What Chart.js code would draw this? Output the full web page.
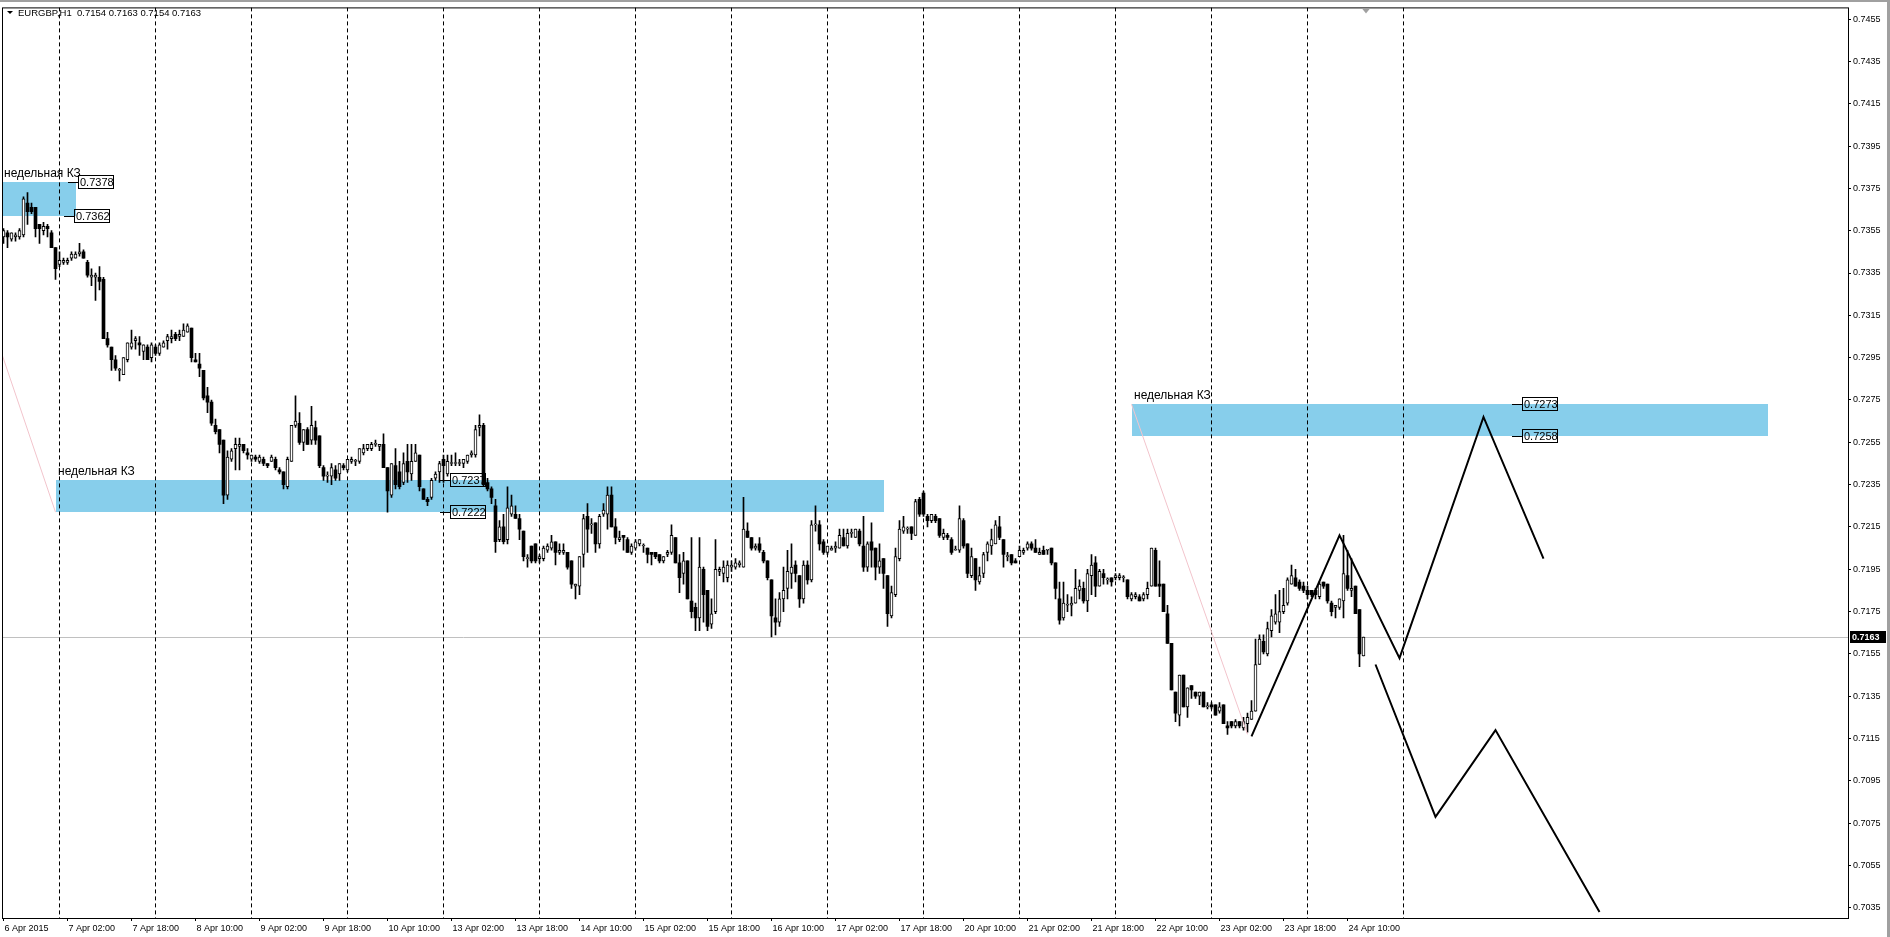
<!DOCTYPE html>
<html>
<head>
<meta charset="utf-8">
<script src="https://cdn.jsdelivr.net/npm/chart.js@4.4.1/dist/chart.umd.min.js"></script>
<style>
  html, body { margin: 0; padding: 0; background: #fff; }
  canvas { display: block; }
</style>
</head>
<body>
<canvas id="chart" width="1890" height="937"></canvas>
<script>
const SYMBOL = 'EURGBP,H1';
const ZONE_NAME = 'недельная КЗ';

// H1 bars, 6 Apr 10:00 .. 24 Apr 14:00 (one line per trading day)
const opens = [
  0.7352,0.7354,0.7351,0.7352,0.7352,0.7353,0.7368,0.7366,0.7366,0.7358,0.7355,0.7357,0.7354,0.7347,
  0.7339,0.7340,0.7340,0.7342,0.7342,0.7344,0.7345,0.7340,0.7333,0.7333,0.7333,0.7332,0.7304,0.7300,0.7294,0.7289,0.7287,0.7294,0.7300,0.7303,0.7302,0.7298,0.7300,0.7295,
  0.7300,0.7297,0.7300,0.7303,0.7304,0.7306,0.7305,0.7305,0.7307,0.7309,0.7294,0.7292,0.7289,0.7277,0.7274,0.7263,0.7261,0.7256,0.7230,0.7247,0.7252,0.7253,0.7254,0.7250,
  0.7247,0.7248,0.7246,0.7247,0.7245,0.7246,0.7247,0.7242,0.7241,0.7234,0.7246,0.7263,0.7264,0.7255,0.7261,0.7256,0.7262,0.7258,0.7243,0.7239,0.7239,0.7242,0.7240,0.7244,
  0.7242,0.7246,0.7246,0.7246,0.7250,0.7252,0.7252,0.7254,0.7253,0.7254,0.7243,0.7230,0.7244,0.7241,0.7236,0.7246,0.7240,0.7246,0.7249,0.7233,0.7228,0.7229,0.7238,0.7241,
  0.7247,0.7240,0.7245,0.7245,0.7245,0.7245,0.7246,0.7249,0.7249,0.7262,0.7263,0.7236,0.7233,0.7225,0.7209,0.7215,0.7209,0.7221,0.7221,0.7219,0.7213,0.7200,0.7206,0.7207,
  0.7200,0.7200,0.7204,0.7205,0.7208,0.7203,0.7203,0.7203,0.7199,0.7187,0.7187,0.7202,0.7220,0.7216,0.7217,0.7207,0.7221,0.7221,0.7230,0.7215,0.7209,0.7211,0.7209,0.7203,
  0.7205,0.7207,0.7206,0.7205,0.7203,0.7203,0.7202,0.7199,0.7202,0.7203,0.7210,0.7198,0.7193,0.7199,0.7180,0.7177,0.7172,0.7195,0.7185,0.7169,0.7175,0.7194,0.7193,0.7191,
  0.7196,0.7196,0.7197,0.7196,0.7213,0.7210,0.7205,0.7207,0.7203,0.7199,0.7190,0.7172,0.7170,0.7181,0.7186,0.7193,0.7197,0.7192,0.7181,0.7197,0.7190,0.7216,0.7216,0.7208,
  0.7203,0.7204,0.7205,0.7205,0.7210,0.7206,0.7212,0.7210,0.7213,0.7206,0.7196,0.7208,0.7205,0.7196,0.7200,0.7192,0.7173,0.7183,0.7200,0.7213,0.7214,0.7215,0.7211,0.7228,
  0.7231,0.7220,0.7218,0.7220,0.7219,0.7210,0.7211,0.7209,0.7204,0.7204,0.7218,0.7207,0.7192,0.7200,0.7189,0.7193,0.7203,0.7206,0.7207,0.7215,0.7209,0.7201,0.7202,0.7199,
  0.7201,0.7203,0.7205,0.7207,0.7205,0.7202,0.7204,0.7204,0.7205,0.7198,0.7181,0.7172,0.7178,0.7178,0.7179,0.7185,0.7186,0.7180,0.7192,0.7198,0.7187,0.7193,0.7190,0.7191,
  0.7191,0.7191,0.7191,0.7190,0.7181,0.7182,0.7182,0.7181,0.7183,0.7187,0.7204,0.7188,0.7188,0.7174,0.7160,0.7137,0.7126,0.7145,0.7130,0.7140,0.7137,0.7135,0.7137,0.7130,
  0.7131,0.7131,0.7128,0.7131,0.7121,0.7123,0.7121,0.7123,0.7120,0.7122,0.7124,0.7128,0.7150,0.7161,0.7155,0.7166,0.7170,0.7170,0.7175,0.7179,0.7188,0.7191,0.7189,0.7187,
  0.7185,0.7185,0.7185,0.7182,0.7189,0.7188,0.7179,0.7177,0.7177,0.7180,0.7192,0.7185,0.7187,0.7176,0.7154
];
const highs = [
  0.7356,0.7355,0.7354,0.7354,0.7356,0.7371,0.7373,0.7368,0.7366,0.7358,0.7359,0.7358,0.7355,0.7347,
  0.7345,0.7342,0.7342,0.7345,0.7345,0.7349,0.7346,0.7341,0.7337,0.7335,0.7338,0.7333,0.7307,0.7300,0.7296,0.7290,0.7295,0.7302,0.7308,0.7305,0.7305,0.7301,0.7301,0.7302,
  0.7301,0.7302,0.7303,0.7306,0.7308,0.7307,0.7308,0.7311,0.7311,0.7309,0.7297,0.7297,0.7289,0.7281,0.7275,0.7266,0.7261,0.7256,0.7251,0.7252,0.7257,0.7257,0.7254,0.7252,
  0.7249,0.7249,0.7249,0.7248,0.7245,0.7249,0.7248,0.7243,0.7241,0.7248,0.7263,0.7277,0.7269,0.7261,0.7262,0.7272,0.7265,0.7258,0.7244,0.7241,0.7245,0.7244,0.7245,0.7245,
  0.7247,0.7248,0.7247,0.7252,0.7254,0.7254,0.7255,0.7256,0.7254,0.7259,0.7243,0.7245,0.7252,0.7246,0.7250,0.7254,0.7254,0.7254,0.7249,0.7233,0.7229,0.7238,0.7241,0.7246,
  0.7249,0.7249,0.7249,0.7250,0.7247,0.7247,0.7249,0.7251,0.7263,0.7268,0.7264,0.7238,0.7234,0.7228,0.7218,0.7221,0.7234,0.7230,0.7225,0.7221,0.7213,0.7202,0.7206,0.7207,
  0.7202,0.7206,0.7207,0.7211,0.7208,0.7207,0.7207,0.7203,0.7199,0.7188,0.7201,0.7221,0.7226,0.7219,0.7217,0.7221,0.7226,0.7234,0.7234,0.7219,0.7213,0.7211,0.7210,0.7207,
  0.7209,0.7209,0.7207,0.7205,0.7203,0.7203,0.7202,0.7201,0.7204,0.7216,0.7210,0.7202,0.7203,0.7199,0.7210,0.7179,0.7210,0.7196,0.7185,0.7181,0.7209,0.7196,0.7199,0.7199,
  0.7199,0.7200,0.7199,0.7229,0.7217,0.7210,0.7207,0.7210,0.7204,0.7199,0.7190,0.7181,0.7184,0.7196,0.7204,0.7207,0.7199,0.7192,0.7199,0.7199,0.7218,0.7225,0.7218,0.7209,
  0.7206,0.7206,0.7208,0.7214,0.7214,0.7214,0.7214,0.7214,0.7214,0.7220,0.7208,0.7217,0.7205,0.7207,0.7200,0.7192,0.7187,0.7205,0.7218,0.7220,0.7215,0.7215,0.7228,0.7229,
  0.7232,0.7221,0.7221,0.7221,0.7219,0.7214,0.7212,0.7210,0.7206,0.7225,0.7219,0.7207,0.7205,0.7200,0.7196,0.7203,0.7208,0.7214,0.7218,0.7220,0.7209,0.7203,0.7202,0.7200,
  0.7206,0.7205,0.7208,0.7208,0.7209,0.7205,0.7206,0.7204,0.7205,0.7198,0.7189,0.7189,0.7183,0.7182,0.7195,0.7190,0.7189,0.7195,0.7202,0.7201,0.7195,0.7195,0.7191,0.7191,
  0.7193,0.7193,0.7192,0.7190,0.7184,0.7184,0.7183,0.7184,0.7189,0.7205,0.7205,0.7199,0.7188,0.7178,0.7160,0.7137,0.7145,0.7145,0.7139,0.7140,0.7137,0.7137,0.7137,0.7132,
  0.7132,0.7131,0.7132,0.7131,0.7123,0.7123,0.7124,0.7123,0.7125,0.7127,0.7133,0.7162,0.7164,0.7164,0.7170,0.7176,0.7183,0.7185,0.7186,0.7191,0.7197,0.7195,0.7190,0.7189,
  0.7187,0.7185,0.7186,0.7189,0.7189,0.7188,0.7180,0.7178,0.7181,0.7211,0.7204,0.7200,0.7187,0.7176,0.7163
];
const lows = [
  0.7349,0.7347,0.7350,0.7350,0.7351,0.7352,0.7358,0.7363,0.7352,0.7349,0.7353,0.7352,0.7347,0.7332,
  0.7338,0.7339,0.7339,0.7341,0.7342,0.7343,0.7342,0.7333,0.7329,0.7322,0.7327,0.7304,0.7300,0.7289,0.7289,0.7284,0.7287,0.7293,0.7299,0.7299,0.7296,0.7294,0.7294,0.7293,
  0.7296,0.7296,0.7300,0.7299,0.7302,0.7303,0.7303,0.7305,0.7307,0.7293,0.7293,0.7286,0.7275,0.7269,0.7263,0.7259,0.7250,0.7226,0.7228,0.7246,0.7242,0.7242,0.7250,0.7247,
  0.7246,0.7246,0.7245,0.7244,0.7243,0.7246,0.7242,0.7240,0.7233,0.7233,0.7246,0.7262,0.7254,0.7251,0.7254,0.7254,0.7254,0.7243,0.7237,0.7236,0.7235,0.7237,0.7237,0.7242,
  0.7241,0.7245,0.7244,0.7245,0.7249,0.7251,0.7251,0.7253,0.7251,0.7243,0.7222,0.7229,0.7233,0.7233,0.7235,0.7236,0.7237,0.7246,0.7232,0.7228,0.7225,0.7228,0.7237,0.7236,
  0.7236,0.7239,0.7244,0.7244,0.7244,0.7243,0.7245,0.7248,0.7248,0.7258,0.7234,0.7232,0.7226,0.7203,0.7208,0.7207,0.7207,0.7220,0.7219,0.7209,0.7199,0.7196,0.7198,0.7198,
  0.7198,0.7199,0.7203,0.7204,0.7197,0.7202,0.7202,0.7195,0.7186,0.7181,0.7183,0.7196,0.7203,0.7212,0.7203,0.7205,0.7220,0.7214,0.7215,0.7207,0.7208,0.7204,0.7203,0.7202,
  0.7204,0.7206,0.7203,0.7198,0.7197,0.7200,0.7198,0.7198,0.7201,0.7202,0.7198,0.7184,0.7188,0.7181,0.7172,0.7166,0.7166,0.7170,0.7166,0.7167,0.7174,0.7192,0.7189,0.7189,
  0.7194,0.7195,0.7196,0.7196,0.7210,0.7204,0.7204,0.7203,0.7198,0.7190,0.7163,0.7164,0.7168,0.7175,0.7181,0.7186,0.7189,0.7177,0.7179,0.7188,0.7189,0.7213,0.7204,0.7202,
  0.7202,0.7204,0.7203,0.7205,0.7206,0.7205,0.7210,0.7210,0.7206,0.7194,0.7194,0.7196,0.7190,0.7193,0.7186,0.7168,0.7172,0.7182,0.7199,0.7212,0.7212,0.7209,0.7211,0.7220,
  0.7220,0.7215,0.7217,0.7217,0.7210,0.7209,0.7209,0.7202,0.7204,0.7203,0.7205,0.7191,0.7191,0.7185,0.7188,0.7191,0.7199,0.7202,0.7207,0.7209,0.7196,0.7199,0.7197,0.7198,
  0.7201,0.7202,0.7204,0.7204,0.7203,0.7202,0.7202,0.7202,0.7197,0.7181,0.7169,0.7171,0.7175,0.7173,0.7179,0.7181,0.7179,0.7175,0.7183,0.7182,0.7187,0.7188,0.7188,0.7187,
  0.7190,0.7190,0.7189,0.7181,0.7180,0.7181,0.7180,0.7180,0.7181,0.7187,0.7187,0.7182,0.7175,0.7160,0.7138,0.7123,0.7121,0.7130,0.7125,0.7134,0.7134,0.7131,0.7130,0.7129,
  0.7129,0.7126,0.7127,0.7122,0.7117,0.7120,0.7120,0.7120,0.7119,0.7118,0.7124,0.7128,0.7150,0.7155,0.7154,0.7163,0.7169,0.7165,0.7174,0.7178,0.7188,0.7187,0.7185,0.7184,
  0.7181,0.7182,0.7181,0.7181,0.7186,0.7179,0.7173,0.7172,0.7176,0.7172,0.7185,0.7182,0.7174,0.7149,0.7154
];
const closes = [
  0.7355,0.7352,0.7354,0.7353,0.7355,0.7370,0.7364,0.7364,0.7356,0.7356,0.7357,0.7356,0.7347,0.7337,
  0.7341,0.7341,0.7341,0.7344,0.7344,0.7345,0.7342,0.7334,0.7334,0.7334,0.7331,0.7304,0.7301,0.7294,0.7290,0.7289,0.7295,0.7302,0.7302,0.7304,0.7301,0.7301,0.7294,0.7301,
  0.7297,0.7301,0.7302,0.7305,0.7305,0.7304,0.7306,0.7308,0.7310,0.7295,0.7293,0.7290,0.7276,0.7274,0.7264,0.7260,0.7254,0.7230,0.7248,0.7251,0.7254,0.7254,0.7251,0.7249,
  0.7249,0.7247,0.7248,0.7245,0.7244,0.7248,0.7243,0.7241,0.7235,0.7247,0.7263,0.7265,0.7255,0.7261,0.7254,0.7263,0.7256,0.7244,0.7239,0.7239,0.7243,0.7238,0.7245,0.7243,
  0.7247,0.7247,0.7246,0.7252,0.7252,0.7254,0.7254,0.7254,0.7254,0.7243,0.7232,0.7245,0.7235,0.7234,0.7245,0.7241,0.7246,0.7250,0.7234,0.7228,0.7227,0.7237,0.7240,0.7245,
  0.7244,0.7246,0.7245,0.7245,0.7245,0.7247,0.7249,0.7250,0.7261,0.7263,0.7235,0.7233,0.7229,0.7208,0.7215,0.7208,0.7224,0.7225,0.7219,0.7214,0.7201,0.7200,0.7199,0.7199,
  0.7201,0.7205,0.7206,0.7208,0.7203,0.7204,0.7204,0.7196,0.7188,0.7188,0.7201,0.7219,0.7214,0.7216,0.7207,0.7220,0.7223,0.7230,0.7215,0.7210,0.7210,0.7210,0.7203,0.7206,
  0.7208,0.7209,0.7206,0.7202,0.7202,0.7201,0.7199,0.7201,0.7203,0.7211,0.7198,0.7191,0.7199,0.7181,0.7175,0.7172,0.7196,0.7183,0.7168,0.7174,0.7195,0.7195,0.7196,0.7197,
  0.7197,0.7198,0.7198,0.7214,0.7210,0.7205,0.7206,0.7204,0.7199,0.7191,0.7173,0.7170,0.7181,0.7185,0.7194,0.7196,0.7193,0.7181,0.7197,0.7190,0.7216,0.7216,0.7207,0.7203,
  0.7206,0.7205,0.7206,0.7211,0.7206,0.7212,0.7212,0.7214,0.7207,0.7196,0.7207,0.7204,0.7196,0.7199,0.7193,0.7174,0.7184,0.7201,0.7214,0.7215,0.7214,0.7212,0.7227,0.7221,
  0.7221,0.7218,0.7221,0.7218,0.7211,0.7212,0.7210,0.7203,0.7204,0.7219,0.7206,0.7193,0.7201,0.7190,0.7192,0.7202,0.7207,0.7209,0.7216,0.7210,0.7202,0.7201,0.7198,0.7198,
  0.7204,0.7204,0.7207,0.7205,0.7203,0.7203,0.7202,0.7204,0.7198,0.7186,0.7171,0.7179,0.7178,0.7179,0.7186,0.7187,0.7180,0.7193,0.7197,0.7187,0.7194,0.7191,0.7190,0.7189,
  0.7192,0.7192,0.7191,0.7182,0.7183,0.7183,0.7180,0.7183,0.7186,0.7205,0.7187,0.7187,0.7175,0.7160,0.7138,0.7127,0.7145,0.7130,0.7139,0.7138,0.7135,0.7137,0.7130,0.7130,
  0.7130,0.7126,0.7130,0.7122,0.7120,0.7121,0.7123,0.7121,0.7123,0.7125,0.7128,0.7150,0.7162,0.7156,0.7167,0.7173,0.7174,0.7175,0.7178,0.7190,0.7192,0.7187,0.7186,0.7185,
  0.7183,0.7183,0.7183,0.7188,0.7187,0.7180,0.7175,0.7178,0.7181,0.7193,0.7186,0.7186,0.7174,0.7155,0.7163
];

// axis labels
const timeTickBars = [0, 16, 32, 48, 64, 80, 96, 112, 128, 144, 160, 176, 192, 208, 224, 240, 256, 272, 288, 304, 320, 336];
const timeTickLabels = [
  '6 Apr 2015', '7 Apr 02:00', '7 Apr 18:00', '8 Apr 10:00', '9 Apr 02:00', '9 Apr 18:00', '10 Apr 10:00',
  '13 Apr 02:00', '13 Apr 18:00', '14 Apr 10:00', '15 Apr 02:00', '15 Apr 18:00', '16 Apr 10:00', '17 Apr 02:00',
  '17 Apr 18:00', '20 Apr 10:00', '21 Apr 02:00', '21 Apr 18:00', '22 Apr 10:00', '23 Apr 02:00', '23 Apr 18:00', '24 Apr 10:00'
];
const priceTicks = [
  0.7035, 0.7055, 0.7075, 0.7095, 0.7115, 0.7135, 0.7155, 0.7175, 0.7195, 0.7215, 0.7235,
  0.7255, 0.7275, 0.7295, 0.7315, 0.7335, 0.7355, 0.7375, 0.7395, 0.7415, 0.7435, 0.7455
];
const daySeparatorBars = [14, 38, 62, 86, 110, 134, 158, 182, 206, 230, 254, 278, 302, 326, 350];

// weekly zones (rectangles)
const zoneFromBars = [-2, 13, 282];
const zoneToBars = [18, 220, 441];
const zoneHighs = [0.7378, 0.7237, 0.7273];
const zoneLows = [0.7362, 0.7222, 0.7258];

// price tags on the zone edges
const tagBars = [16, 15, 109, 109, 377, 377];
const tagPrices = [0.7378, 0.7362, 0.7237, 0.7222, 0.7273, 0.7258];

// thin pink anchor lines
const pinkLineABars = [-1, 13];
const pinkLineAPrices = [0.7300, 0.7222];
const pinkLineBBars = [282, 311];
const pinkLineBPrices = [0.7273, 0.7117];

// forecast zigzags
const zigzagUpBars = [312, 334, 349, 370, 385];
const zigzagUpPrices = [0.7116, 0.7211, 0.7153, 0.7267, 0.7200];
const zigzagDownBars = [343, 358, 373, 399];
const zigzagDownPrices = [0.7150, 0.7078, 0.7119, 0.7033];

const FONT = '"Liberation Sans", Arial, sans-serif';
const lastIdx = closes.length - 1;
const lastClose = closes[lastIdx];

const wickData = opens.map((o, i) => ({ x: i, y: [lows[i], highs[i]] }));
const bullData = [];
const bearData = [];
opens.forEach((o, i) => {
  const point = { x: i, y: [o, closes[i]] };
  if (closes[i] >= o) {
    bullData.push(point);
  } else {
    bearData.push(point);
  }
});

function toPoints(bars, prices) {
  return bars.map((b, i) => ({ x: b, y: prices[i] }));
}

function lineDataset(bars, prices, color, width) {
  return {
    type: 'line',
    data: toPoints(bars, prices),
    borderColor: color,
    borderWidth: width,
    pointRadius: 0,
    fill: false,
    tension: 0,
    order: 0
  };
}

const overlayPlugin = {
  id: 'mt4Overlay',
  beforeDatasetsDraw(chart) {
    const { ctx, chartArea: a, scales: { x, y } } = chart;
    ctx.save();
    ctx.beginPath();
    ctx.rect(a.left, a.top, a.right - a.left, a.bottom - a.top);
    ctx.clip();

    ctx.fillStyle = '#87ceeb';
    zoneFromBars.forEach((from, i) => {
      const x0 = Math.max(x.getPixelForValue(from), a.left);
      const x1 = x.getPixelForValue(zoneToBars[i]);
      const y0 = y.getPixelForValue(zoneHighs[i]);
      const y1 = y.getPixelForValue(zoneLows[i]);
      ctx.fillRect(Math.round(x0), Math.round(y0), Math.round(x1 - x0), Math.round(y1 - y0));
    });

    ctx.strokeStyle = '#c0c0c0';
    ctx.lineWidth = 1;
    const py = Math.round(y.getPixelForValue(lastClose)) + 0.5;
    ctx.beginPath();
    ctx.moveTo(a.left, py);
    ctx.lineTo(a.right, py);
    ctx.stroke();

    ctx.strokeStyle = '#000';
    ctx.setLineDash([4, 3]);
    daySeparatorBars.forEach((b) => {
      const px = Math.floor(x.getPixelForValue(b)) + 0.5;
      ctx.beginPath();
      ctx.moveTo(px, a.top);
      ctx.lineTo(px, a.bottom);
      ctx.stroke();
    });
    ctx.restore();
  },
  afterDatasetsDraw(chart) {
    const { ctx, chartArea: a, scales: { x, y } } = chart;
    ctx.save();
    ctx.fillStyle = '#000';
    ctx.strokeStyle = '#000';
    ctx.lineWidth = 1;

    ctx.font = '12px ' + FONT;
    ctx.textBaseline = 'alphabetic';
    ctx.textAlign = 'left';
    zoneFromBars.forEach((from, i) => {
      const x0 = Math.max(x.getPixelForValue(from), a.left);
      const y0 = y.getPixelForValue(zoneHighs[i]);
      ctx.fillText(ZONE_NAME, Math.round(x0) + 2, Math.round(y0) - 5);
    });

    ctx.font = '11px ' + FONT;
    ctx.textBaseline = 'middle';
    tagBars.forEach((b, i) => {
      const ax = Math.round(x.getPixelForValue(b));
      const ty = Math.round(y.getPixelForValue(tagPrices[i]));
      ctx.beginPath();
      ctx.moveTo(ax, ty + 0.5);
      ctx.lineTo(ax + 10, ty + 0.5);
      ctx.stroke();
      ctx.strokeRect(ax + 10.5, ty - 6.5, 35, 13);
      ctx.fillText(tagPrices[i].toFixed(4), ax + 12, ty + 0.5);
    });
    ctx.restore();
  },
  afterDraw(chart) {
    const { ctx, chartArea: a, scales: { x, y } } = chart;
    ctx.save();

    // window chrome
    ctx.fillStyle = '#a0a0a0';
    ctx.fillRect(0, 0, chart.width, 2);
    ctx.fillRect(chart.width - 3, 0, 3, chart.height);

    // frame
    ctx.strokeStyle = '#000';
    ctx.lineWidth = 1;
    ctx.strokeRect(a.left + 0.5, a.top + 0.5, a.right - a.left, a.bottom - a.top);

    // chart shift marker
    const mx = Math.round(x.getPixelForValue(lastIdx + 0.6));
    ctx.fillStyle = '#a0a0a0';
    ctx.beginPath();
    ctx.moveTo(mx - 4, a.top + 1);
    ctx.lineTo(mx + 4, a.top + 1);
    ctx.lineTo(mx, a.top + 6);
    ctx.closePath();
    ctx.fill();

    // header
    ctx.fillStyle = '#000';
    ctx.beginPath();
    ctx.moveTo(7, 11);
    ctx.lineTo(13, 11);
    ctx.lineTo(10, 14);
    ctx.closePath();
    ctx.fill();
    ctx.font = '9.5px ' + FONT;
    ctx.textBaseline = 'alphabetic';
    ctx.textAlign = 'left';
    ctx.fillText(SYMBOL, 18, 16);
    const ohlc = [opens[lastIdx], highs[lastIdx], lows[lastIdx], closes[lastIdx]].map((v) => v.toFixed(4)).join(' ');
    ctx.fillText(ohlc, 77, 16);

    // current price tag on the axis
    const py = Math.round(y.getPixelForValue(lastClose));
    ctx.fillStyle = '#000';
    ctx.fillRect(a.right + 2, py - 6, 36, 12);
    ctx.fillStyle = '#fff';
    ctx.font = 'bold 9px ' + FONT;
    ctx.textBaseline = 'middle';
    ctx.fillText(lastClose.toFixed(4), a.right + 4, py + 0.5);
    ctx.restore();
  }
};

Chart.defaults.font.family = FONT;
Chart.defaults.font.size = 9;
Chart.defaults.color = '#000';

new Chart(document.getElementById('chart'), {
  type: 'bar',
  data: {
    datasets: [
      lineDataset(pinkLineABars, pinkLineAPrices, '#f2c4cc', 1),
      lineDataset(pinkLineBBars, pinkLineBPrices, '#f2c4cc', 1),
      lineDataset(zigzagUpBars, zigzagUpPrices, '#000', 2),
      lineDataset(zigzagDownBars, zigzagDownPrices, '#000', 2),
      {
        data: bullData,
        backgroundColor: '#fff',
        borderColor: '#000',
        borderWidth: 1,
        borderSkipped: false,
        barThickness: 3,
        minBarLength: 1,
        grouped: false,
        order: 1
      },
      {
        data: bearData,
        backgroundColor: '#000',
        borderWidth: 0,
        barThickness: 3,
        minBarLength: 1,
        grouped: false,
        order: 1
      },
      {
        data: wickData,
        backgroundColor: '#000',
        borderWidth: 0,
        barThickness: 1,
        grouped: false,
        order: 2
      }
    ]
  },
  options: {
    responsive: false,
    animation: false,
    events: [],
    layout: { padding: { left: 2, top: 4, right: 0, bottom: 0 } },
    plugins: {
      legend: { display: false },
      tooltip: { enabled: false }
    },
    scales: {
      x: {
        type: 'linear',
        position: 'bottom',
        min: -0.375,
        max: 461.125,
        bounds: 'data',
        offset: false,
        afterBuildTicks: (scale) => {
          scale.ticks = timeTickBars.map((v) => ({ value: v }));
        },
        afterFit: (scale) => {
          scale.height = 19;
        },
        ticks: {
          autoSkip: false,
          maxRotation: 0,
          minRotation: 0,
          align: 'start',
          padding: 2,
          labelOffset: 1,
          color: '#000',
          callback: (value, index) => timeTickLabels[index]
        },
        grid: {
          offset: false,
          drawOnChartArea: false,
          drawTicks: true,
          tickLength: 3,
          color: '#000'
        },
        border: { display: false }
      },
      y: {
        type: 'linear',
        position: 'right',
        min: 0.703021,
        max: 0.746051,
        bounds: 'data',
        afterBuildTicks: (scale) => {
          scale.ticks = priceTicks.map((v) => ({ value: v }));
        },
        afterFit: (scale) => {
          scale.width = 42;
        },
        ticks: {
          padding: 2,
          color: '#000',
          callback: (value) => Number(value).toFixed(4)
        },
        grid: {
          drawOnChartArea: false,
          drawTicks: true,
          tickLength: 3,
          color: '#000'
        },
        border: { display: false }
      }
    }
  },
  plugins: [overlayPlugin]
});
</script>
</body>
</html>
